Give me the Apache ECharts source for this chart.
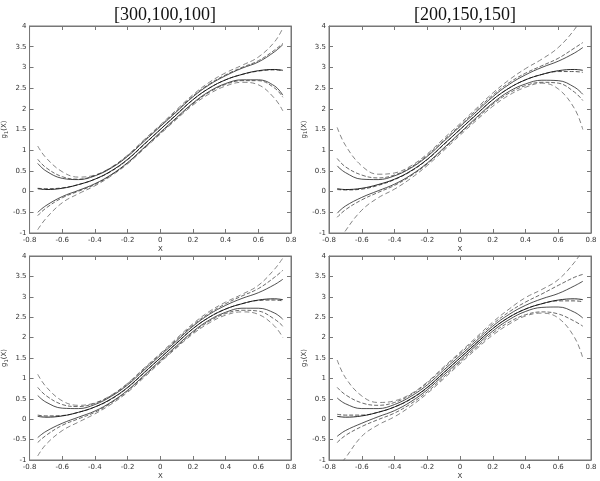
<!DOCTYPE html>
<html>
<head>
<meta charset="utf-8">
<script src="https://cdn.jsdelivr.net/npm/echarts@6/dist/echarts.min.js"></script>
<style>html,body{margin:0;padding:0;background:#fff}#c{width:600px;height:481px}</style>
</head>
<body>
<div id="c"></div>
<script>
const xs = [-0.75,-0.7,-0.6,-0.5,-0.4,-0.3,-0.2,-0.1,0,0.1,0.2,0.3,0.4,0.5,0.6,0.7,0.75];
const xTicks = [-0.8,-0.6,-0.4,-0.2,0,0.2,0.4,0.6,0.8];
const yTicks = [-1,-0.5,0,0.5,1,1.5,2,2.5,3,3.5,4];
const titles = ['[300,100,100]','[200,150,150]','',''];

const truth = [0.07,0.05,0.08,0.17,0.30,0.50,0.78,1.14,1.50,1.86,2.22,2.50,2.70,2.83,2.92,2.95,2.93];

// Panel top-left
const tlEst = [0.08,0.07,0.09,0.17,0.30,0.49,0.77,1.13,1.50,1.87,2.22,2.50,2.70,2.83,2.91,2.94,2.92];
const tlSU = [0.68,0.50,0.32,0.29,0.38,0.57,0.85,1.21,1.57,1.93,2.29,2.58,2.80,2.98,3.13,3.38,3.55];
const tlSL = [-0.50,-0.34,-0.12,0.03,0.19,0.41,0.70,1.06,1.43,1.79,2.14,2.42,2.61,2.70,2.70,2.55,2.33];
const tlDU = [0.78,0.58,0.36,0.30,0.39,0.58,0.87,1.23,1.59,1.95,2.31,2.60,2.82,3.00,3.16,3.42,3.58];
const tlDL = [-0.58,-0.40,-0.15,0.01,0.17,0.40,0.69,1.05,1.41,1.77,2.12,2.40,2.59,2.68,2.68,2.50,2.28];
const tlOU = [1.10,0.82,0.48,0.35,0.40,0.59,0.88,1.25,1.61,1.98,2.34,2.64,2.87,3.05,3.25,3.62,3.95];
const tlOL = [-0.92,-0.65,-0.27,-0.05,0.14,0.38,0.67,1.03,1.39,1.75,2.09,2.36,2.55,2.64,2.58,2.25,1.95];

// Panel top-right
const trEst = [0.05,0.04,0.06,0.15,0.29,0.49,0.77,1.13,1.50,1.87,2.22,2.50,2.70,2.83,2.90,2.90,2.88];
const trSU = [0.62,0.46,0.30,0.29,0.38,0.57,0.85,1.21,1.57,1.93,2.29,2.59,2.82,3.00,3.15,3.35,3.48];
const trSL = [-0.52,-0.35,-0.14,0.02,0.18,0.40,0.69,1.05,1.42,1.79,2.14,2.42,2.60,2.69,2.68,2.52,2.35];
const trDU = [0.80,0.60,0.40,0.33,0.40,0.59,0.88,1.24,1.60,1.97,2.33,2.63,2.86,3.04,3.22,3.47,3.60];
const trDL = [-0.62,-0.44,-0.20,-0.02,0.15,0.38,0.67,1.03,1.40,1.76,2.11,2.38,2.56,2.64,2.62,2.40,2.20];
const trOU = [1.55,1.12,0.62,0.42,0.45,0.62,0.91,1.28,1.64,2.01,2.38,2.70,2.97,3.20,3.48,3.92,4.25];
const trOL = [-1.30,-0.95,-0.45,-0.15,0.06,0.32,0.63,0.99,1.36,1.72,2.06,2.33,2.52,2.62,2.48,2.00,1.50];

// Panel bottom-left
const blEst = [0.10,0.08,0.09,0.17,0.30,0.49,0.77,1.13,1.50,1.87,2.22,2.50,2.70,2.83,2.91,2.92,2.90];
const blSU = [0.58,0.42,0.27,0.26,0.36,0.56,0.84,1.20,1.56,1.92,2.28,2.57,2.79,2.96,3.10,3.30,3.43];
const blSL = [-0.45,-0.30,-0.10,0.05,0.20,0.42,0.71,1.07,1.44,1.80,2.15,2.43,2.62,2.72,2.72,2.60,2.45];
const blDU = [0.78,0.58,0.36,0.31,0.39,0.58,0.87,1.23,1.59,1.95,2.31,2.60,2.83,3.02,3.20,3.48,3.65];
const blDL = [-0.57,-0.40,-0.15,0.01,0.17,0.40,0.69,1.05,1.41,1.77,2.12,2.40,2.59,2.67,2.65,2.45,2.28];
const blOU = [1.10,0.80,0.45,0.34,0.40,0.59,0.88,1.25,1.61,1.98,2.34,2.64,2.87,3.06,3.28,3.68,3.95];
const blOL = [-0.90,-0.62,-0.28,-0.07,0.13,0.37,0.66,1.02,1.39,1.75,2.09,2.36,2.55,2.63,2.57,2.28,2.00];

// Panel bottom-right
const brEst = [0.12,0.10,0.10,0.17,0.30,0.49,0.77,1.13,1.50,1.87,2.22,2.50,2.70,2.83,2.90,2.90,2.88];
const brSU = [0.52,0.38,0.26,0.26,0.36,0.56,0.84,1.20,1.56,1.92,2.28,2.57,2.79,2.95,3.08,3.27,3.38];
const brSL = [-0.42,-0.28,-0.10,0.06,0.21,0.43,0.72,1.08,1.44,1.81,2.16,2.44,2.64,2.74,2.75,2.62,2.48];
const brDU = [0.78,0.60,0.40,0.34,0.41,0.60,0.89,1.25,1.61,1.97,2.33,2.63,2.87,3.07,3.28,3.48,3.55];
const brDL = [-0.57,-0.40,-0.18,-0.01,0.15,0.38,0.67,1.03,1.40,1.76,2.11,2.38,2.56,2.63,2.58,2.40,2.28];
const brOU = [1.45,1.02,0.57,0.41,0.45,0.62,0.91,1.28,1.64,2.01,2.38,2.70,2.98,3.18,3.42,3.85,4.15];
const brOL = [-1.20,-0.95,-0.42,-0.14,0.06,0.32,0.63,0.99,1.36,1.72,2.06,2.33,2.53,2.60,2.48,2.00,1.50];

const panels = [
  {est:tlEst,sU:tlSU,sL:tlSL,dU:tlDU,dL:tlDL,oU:tlOU,oL:tlOL},
  {est:trEst,sU:trSU,sL:trSL,dU:trDU,dL:trDL,oU:trOU,oL:trOL},
  {est:blEst,sU:blSU,sL:blSL,dU:blDU,dL:blDL,oU:blOU,oL:blOL},
  {est:brEst,sU:brSU,sL:brSL,dU:brDU,dL:brDL,oU:brOU,oL:brOL}
];

const pos = [
  {left:29, top:26},{left:329, top:26},{left:29, top:256},{left:329, top:256}
];
const W = 262, H = 207;
const fmt1 = v => String(+v.toFixed(1));
const lab = {fontSize:7, color:'#333', fontFamily:'DejaVu Sans'};

const grid=[], xAxis=[], yAxis=[], series=[], title=[];
pos.forEach((p,i)=>{
  grid.push({left:p.left, top:p.top, width:W, height:H, show:true, borderColor:'#777', borderWidth:1, backgroundColor:'#fff'});
  const tick = {show:true, inside:true, length:4, lineStyle:{color:'#777', width:1}};
  const line = {show:true, onZero:false, lineStyle:{color:'#777'}};
  xAxis.push({type:'value', gridIndex:i, min:-0.8, max:0.8, interval:0.2, position:'bottom',
    axisLine:line, axisTick:tick, splitLine:{show:false},
    axisLabel:{...lab, margin:4, formatter:fmt1},
    name:'X', nameLocation:'middle', nameGap:13, nameTextStyle:{fontSize:7, color:'#333', fontFamily:'DejaVu Sans'}});
  xAxis.push({type:'value', gridIndex:i, min:-0.8, max:0.8, interval:0.2, position:'top',
    axisLine:line, axisTick:tick, splitLine:{show:false}, axisLabel:{show:false}});
  yAxis.push({type:'value', gridIndex:i, min:-1, max:4, interval:0.5, position:'left',
    axisLine:line, axisTick:tick, splitLine:{show:false},
    axisLabel:{...lab, margin:3, formatter:fmt1},
    name:'g{s|1}(X)', nameLocation:'middle', nameGap:15, nameRotate:90,
    nameTextStyle:{fontSize:7, color:'#333', fontFamily:'DejaVu Sans', rich:{s:{fontSize:5, color:'#333', verticalAlign:'bottom', padding:[4,0,0,0]}}}});
  yAxis.push({type:'value', gridIndex:i, min:-1, max:4, interval:0.5, position:'right',
    axisLine:line, axisTick:tick, splitLine:{show:false}, axisLabel:{show:false}});
  if (titles[i]) title.push({text:titles[i], left:p.left+W/2, top:1, textAlign:'center',
    textStyle:{fontSize:18, fontWeight:'normal', color:'#111', fontFamily:'Liberation Serif'}});
  const P = panels[i];
  const mk = (arr, color, type, width) => ({
    type:'line', xAxisIndex:2*i, yAxisIndex:2*i, data:xs.map((x,k)=>[x,arr[k]]),
    smooth:0.4, showSymbol:false, silent:true, animation:false, clip:true,
    lineStyle:{color, width, type}
  });
  series.push(mk(P.oU,'#666',[5,3],0.8), mk(P.oL,'#666',[5,3],0.8));
  series.push(mk(P.dU,'#444',[4,2],0.8), mk(P.dL,'#444',[4,2],0.8));
  series.push(mk(P.sU,'#222','solid',0.8), mk(P.sL,'#222','solid',0.8));
  series.push(mk(P.est,'#444',[4,2],0.9));
  series.push(mk(truth,'#111','solid',0.9));
});

const chart = echarts.init(document.getElementById('c'), null, {renderer:'canvas'});
chart.setOption({animation:false, backgroundColor:'#fff', title, grid, xAxis, yAxis, series});
</script>
</body>
</html>
